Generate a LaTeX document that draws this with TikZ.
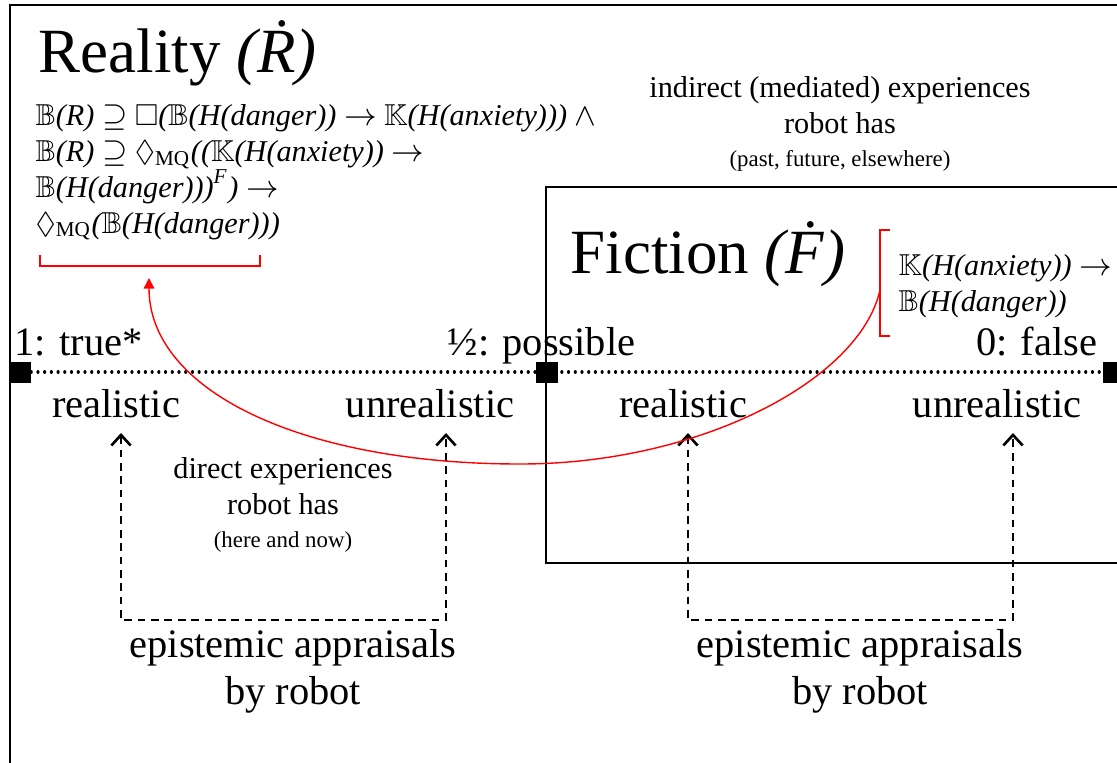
\documentclass[tikz,border=0pt]{standalone}
\usepackage{fontspec}
\setmainfont{Liberation Serif}
\usepackage{amssymb}
\usetikzlibrary{arrows.meta}
\newcommand\Bel{$\mathbb{B}$}
\newcommand\Kno{$\mathbb{K}$}
\newcommand\MQ{$\lozenge$\textsubscript{\upshape MQ}}

\begin{document}
\begin{tikzpicture}[x=0.01cm,y=-0.01cm,
    frame/.style={line width=0.6pt},
    big/.style={font=\fontsize{17.9}{21}\selectfont,inner sep=0pt,anchor=base west},
    mid/.style={font=\fontsize{11.5}{13.4}\selectfont,inner sep=0pt},
    small/.style={font=\fontsize{8.6}{10.4}\selectfont,inner sep=0pt},
    formula/.style={font=\fontsize{8.6}{10.2}\selectfont\itshape,inner sep=0pt,align=left,anchor=north west},
    truthmark/.style={fill,minimum size=0.21cm,inner sep=0pt},
    axis/.style={line width=0.9pt,line cap=round,dash pattern=on 0.01pt off 1.9pt},
    appr/.style={line width=0.75pt,dash pattern=on 2.2pt off 1.6pt,
        {Straight Barb[length=3pt,width=5.5pt]}-{Straight Barb[length=3pt,width=5.5pt]}},
    redline/.style={red,line width=0.4pt},
    redarrow/.style={red,line width=0.4pt,-{Triangle[length=3pt,width=3pt]}}]
\useasboundingbox (0,0) rectangle (1117,763);
\clip (0,0) rectangle (1117,763);

% frames
\draw[frame] (10,780) -- (10,5) -- (1130,5);
\draw[frame] (546,187) rectangle (1130,563);

% titles
\node[big] (realtitle) at (38,72) {Reality \textit{(\.{R})}};
\node[big] (fictitle) at (570,273) {Fiction \textit{(\.{F})}};

% formulas
\node[formula] (realform) at (35,104) {\Bel(R) $\supseteq$ $\square$(\Bel(H(danger)) $\rightarrow$ \Kno(H(anxiety))) $\wedge$\\
  \Bel(R) $\supseteq$ \MQ((\Kno(H(anxiety)) $\rightarrow$\\
  \Bel(H(danger)))\textsuperscript{F}) $\rightarrow$\\
  \MQ(\Bel(H(danger)))};
\node[formula] (ficform) at (898,254) {\Kno(H(anxiety)) $\rightarrow$\\ \Bel(H(danger))};

% red brackets
\draw[redline] (40,255) -- (40,266) -- (260,266) -- (260,255);
\draw[redline] (890,230) -- (880,230) -- (880,336) -- (890,336);
\coordinate (fbrk) at (880,290);
\coordinate (rbrk) at (149,278);

% truth axis
\foreach \x/\n in {20/p1, 547/p2, 1114/p3}
    \node[truthmark] (\n) at (\x,372) {};
\draw[axis] (p1.east) -- (p3.west);

\node[mid,anchor=base west] (truelbl) at (14,355) {1: true*};
\node[mid,anchor=base west] (posslbl) at (447,355) {½: possible};
\node[mid,anchor=base east] (falselbl) at (1098,355) {0: false};

\foreach \x/\t/\n in {116/realistic/rl, 430/unrealistic/ul,
                      683/realistic/rr, 997/unrealistic/ur}
    \node[mid,anchor=base] (\n) at (\x,417) {\t};

% experiences
\node[small,align=center] (direct) at (283,505) {direct experiences\\robot has\\[-1pt]{\fontsize{6.5}{8}\selectfont (here and now)}};
\node[small,align=center] (indirect) at (840,124) {indirect (mediated) experiences\\robot has\\[-1pt]{\fontsize{6.5}{8}\selectfont (past, future, elsewhere)}};

% epistemic appraisals
\coordinate (abase) at (0,620);
\coordinate (t1) at ([shift={(5,16)}]rl.base);
\coordinate (t2) at ([shift={(16,16)}]ul.base);
\coordinate (t3) at ([shift={(5,16)}]rr.base);
\coordinate (t4) at ([shift={(16,16)}]ur.base);
\draw[appr] (t1) -- (t1 |- abase) -| (t2);
\draw[appr] (t3) -- (t3 |- abase) -| (t4);
\node[mid,align=center] (apprL) at (293,671) {epistemic appraisals\\by robot};
\node[mid,align=center] (apprR) at (860,671) {epistemic appraisals\\by robot};

% fiction feeds reality
\draw[redarrow] (fbrk) .. controls (860,380) and (700,464) .. (520,464)
    .. controls (300,464) and (149,390) .. (rbrk);
\end{tikzpicture}
\end{document}
